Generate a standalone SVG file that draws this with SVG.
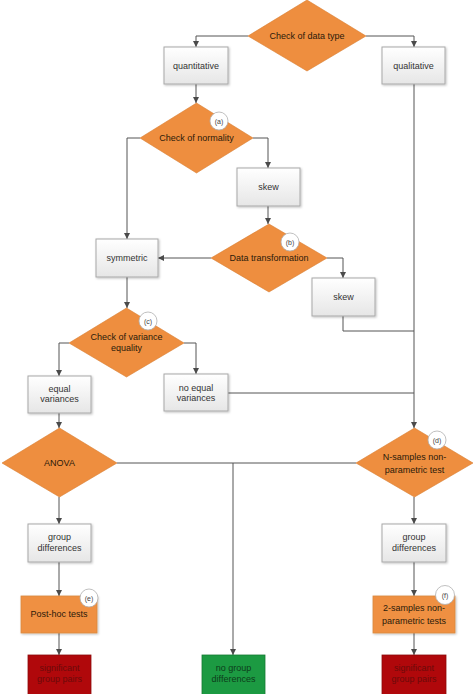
<svg xmlns="http://www.w3.org/2000/svg" width="474" height="694" viewBox="0 0 474 694">
<defs>
<linearGradient id="gbox" x1="0" y1="0" x2="0" y2="1">
<stop offset="0" stop-color="#ffffff"/>
<stop offset="1" stop-color="#e6e6e6"/>
</linearGradient>
<marker id="arr" markerUnits="userSpaceOnUse" markerWidth="7" markerHeight="7" refX="6" refY="3" orient="auto">
<path d="M0,0 L6,3 L0,6 z" fill="#4a4a4a"/>
</marker>
<filter id="sh" x="-10%" y="-10%" width="130%" height="130%">
<feDropShadow dx="1" dy="1" stdDeviation="0.8" flood-color="#000" flood-opacity="0.25"/>
</filter>
</defs>
<style>
text{font-family:"Liberation Sans",Arial,sans-serif;font-size:9px;fill:#333;text-anchor:middle}
.box{fill:url(#gbox);stroke:#a8a8a8;stroke-width:1;filter:url(#sh)}
.dia{fill:#ee8e3f;stroke:#d97e30;stroke-width:0.6}
.obox{fill:#ef9043;stroke:#d9893e;stroke-width:0.8;filter:url(#sh)}
.red{fill:#b0080b;stroke:#8c0b0b;stroke-width:0.8}
.grn{fill:#1c9a42;stroke:#157a33;stroke-width:0.8}
.ot{fill:#2b1a0a}
.rt{fill:#6b0a0a}
.gt{fill:#0c3d1a}
.badge{fill:#fff;stroke:#b0b0b0;stroke-width:0.8}
.bt{font-size:7px;fill:#444}
.c{fill:none;stroke:#555;stroke-width:1}
.ca{fill:none;stroke:#555;stroke-width:1;marker-end:url(#arr)}
</style>
<rect width="474" height="694" fill="#fff"/>
<g id="connectors">
<polyline class="ca" points="248,36 196,36 196,47"/>
<polyline class="ca" points="366,36 414,36 414,47"/>
<polyline class="ca" points="196,84 196,103"/>
<polyline class="ca" points="253,138 268,138 268,168"/>
<polyline class="ca" points="140,138 127,138 127,239"/>
<polyline class="ca" points="268,206 268,224"/>
<polyline class="ca" points="211,258 158,258"/>
<polyline class="ca" points="327,258 343,258 343,278"/>
<polyline class="c" points="343,316 343,331 414,331"/>
<polyline class="ca" points="414,84 414,428"/>
<polyline class="ca" points="127,277 127,308"/>
<polyline class="ca" points="69,343 59,343 59,376"/>
<polyline class="ca" points="184,343 196,343 196,374"/>
<polyline class="c" points="228,393 414,393"/>
<polyline class="ca" points="59,413 59,428"/>
<polyline class="c" points="117,463 356,463"/>
<polyline class="ca" points="233,463 233,655"/>
<polyline class="ca" points="59,497 59,524"/>
<polyline class="ca" points="59,562 59,596"/>
<polyline class="ca" points="59,633 59,655"/>
<polyline class="ca" points="414,497 414,524"/>
<polyline class="ca" points="414,562 414,596"/>
<polyline class="ca" points="414,633 414,655"/>
</g>
<g id="check-data-type">
<polygon class="dia" points="307,0 366,36 307,71 248,36"/>
<text class="ot" x="307" y="39">Check of data type</text>
</g>
<g id="quantitative">
<rect class="box" x="164" y="47" width="64" height="37"/>
<text x="196" y="69">quantitative</text>
</g>
<g id="qualitative">
<rect class="box" x="382" y="47" width="63" height="37"/>
<text x="413.5" y="69">qualitative</text>
</g>
<g id="check-normality">
<polygon class="dia" points="196.5,103 253,138 196.5,173 140,138"/>
<text class="ot" x="196.5" y="141">Check of normality</text>
<circle class="badge" cx="219" cy="121" r="9"/>
<text class="bt" x="219" y="123.5">(a)</text>
</g>
<g id="skew1">
<rect class="box" x="237" y="168" width="63" height="38"/>
<text x="268.5" y="190">skew</text>
</g>
<g id="data-transformation">
<polygon class="dia" points="269,224 327,258 269,292 211,258"/>
<text class="ot" x="269" y="261">Data transformation</text>
<circle class="badge" cx="290" cy="242" r="9"/>
<text class="bt" x="290" y="244.5">(b)</text>
</g>
<g id="symmetric">
<rect class="box" x="96" y="239" width="62" height="38"/>
<text x="127" y="261">symmetric</text>
</g>
<g id="skew2">
<rect class="box" x="312" y="278" width="63" height="38"/>
<text x="343.5" y="300">skew</text>
</g>
<g id="check-variance">
<polygon class="dia" points="126.5,308 184,343 126.5,377 69,343"/>
<text class="ot" x="126.5" y="340">Check of variance</text>
<text class="ot" x="126.5" y="351">equality</text>
<circle class="badge" cx="148" cy="321" r="9"/>
<text class="bt" x="148" y="323.5">(c)</text>
</g>
<g id="equal-variances">
<rect class="box" x="28" y="376" width="63" height="37"/>
<text x="59.5" y="392">equal</text>
<text x="59.5" y="402">variances</text>
</g>
<g id="no-equal-variances">
<rect class="box" x="164" y="374" width="64" height="37"/>
<text x="196" y="391">no equal</text>
<text x="196" y="401">variances</text>
</g>
<g id="anova">
<polygon class="dia" points="59.5,428 117,463 59.5,497 2,463"/>
<text class="ot" x="59.5" y="466">ANOVA</text>
</g>
<g id="n-samples">
<polygon class="dia" points="414.5,428 473,463 414.5,497 356,463"/>
<text class="ot" x="414.5" y="460">N-samples non-</text>
<text class="ot" x="414.5" y="473">parametric test</text>
<circle class="badge" cx="437" cy="440" r="9"/>
<text class="bt" x="437" y="442.5">(d)</text>
</g>
<g id="group-differences-left">
<rect class="box" x="28" y="524" width="63" height="38"/>
<text x="59.5" y="540">group</text>
<text x="59.5" y="551">differences</text>
</g>
<g id="group-differences-right">
<rect class="box" x="382" y="524" width="64" height="38"/>
<text x="414" y="540">group</text>
<text x="414" y="551">differences</text>
</g>
<g id="post-hoc">
<rect class="obox" x="21" y="596" width="76" height="37"/>
<text class="ot" x="59" y="617">Post-hoc tests</text>
<circle class="badge" cx="89" cy="598" r="9"/>
<text class="bt" x="89" y="600.5">(e)</text>
</g>
<g id="two-samples">
<rect class="obox" x="373" y="596" width="82" height="37"/>
<text class="ot" x="414" y="611">2-samples non-</text>
<text class="ot" x="414" y="624">parametric tests</text>
<circle class="badge" cx="445" cy="595" r="9.5"/>
<text class="bt" x="445" y="597.5">(f)</text>
</g>
<g id="significant-left">
<rect class="red" x="28" y="655" width="63" height="42"/>
<text class="rt" x="59.5" y="671">significant</text>
<text class="rt" x="59.5" y="682">group pairs</text>
</g>
<g id="no-group-differences">
<rect class="grn" x="202" y="655" width="63" height="42"/>
<text class="gt" x="233.5" y="671">no group</text>
<text class="gt" x="233.5" y="682">differences</text>
</g>
<g id="significant-right">
<rect class="red" x="382" y="655" width="64" height="42"/>
<text class="rt" x="414" y="671">significant</text>
<text class="rt" x="414" y="682">group pairs</text>
</g>
</svg>
